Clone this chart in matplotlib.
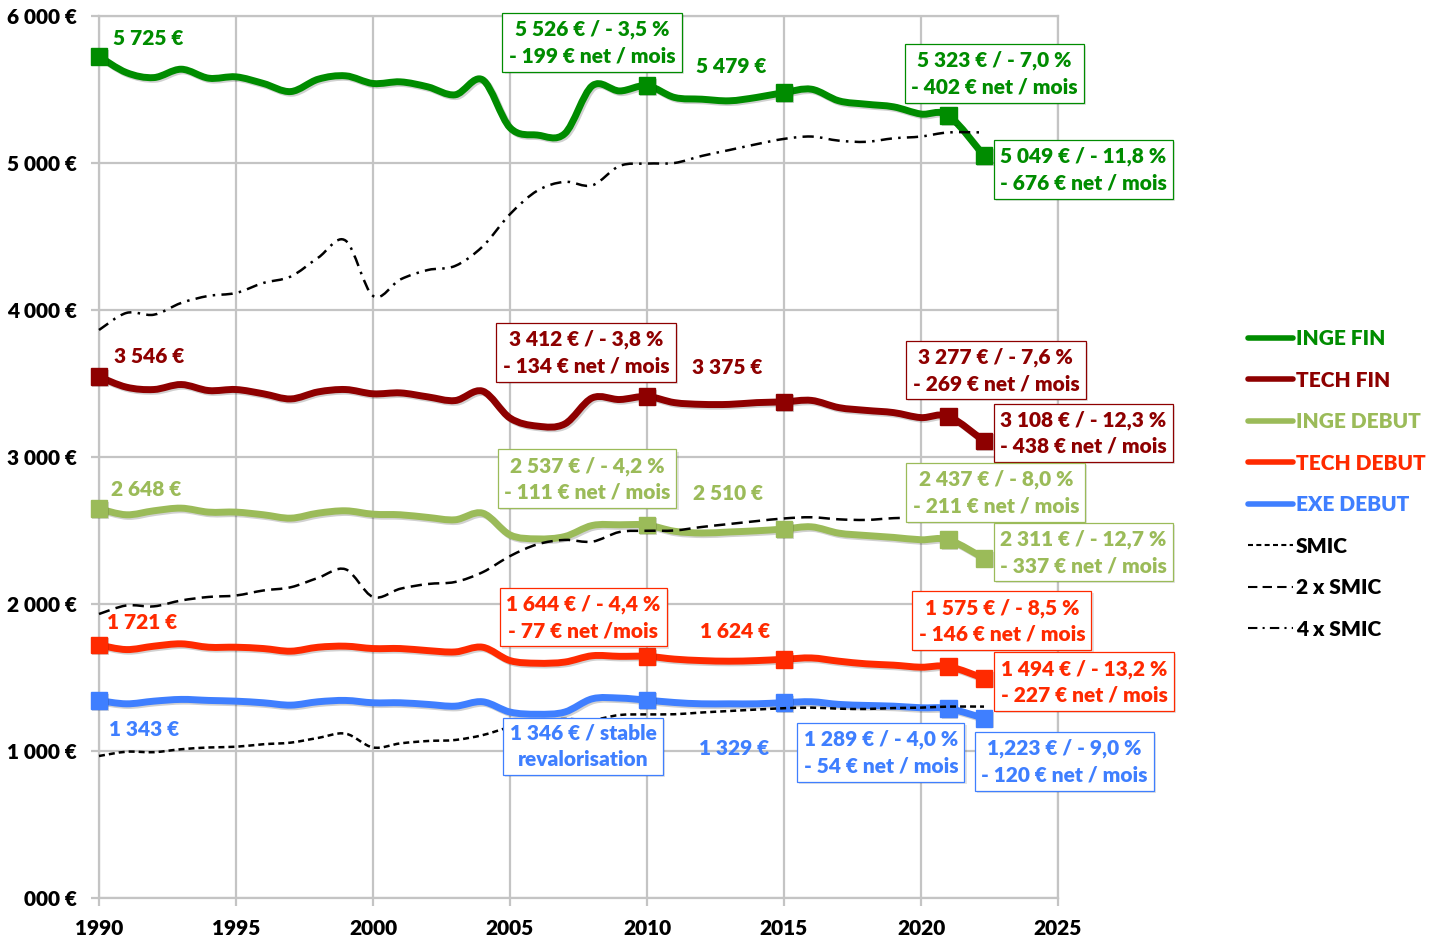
import matplotlib
matplotlib.use('Agg')
import matplotlib.pyplot as plt
import matplotlib.patheffects as pe
from matplotlib.path import Path
from matplotlib.patches import PathPatch
from matplotlib.lines import Line2D

# ---- data ----
years = [1990, 1991, 1992, 1993, 1994, 1995, 1996, 1997, 1998, 1999,
         2000, 2001, 2002, 2003, 2004, 2005, 2006, 2007, 2008, 2009,
         2010, 2011, 2012, 2013, 2014, 2015, 2016, 2017, 2018, 2019,
         2020, 2021, 2022.3]

inge_fin = [5725, 5615, 5581, 5638, 5577, 5586, 5541, 5486, 5570, 5593,
            5541, 5552, 5518, 5464, 5566, 5240, 5190, 5200, 5525, 5490,
            5526, 5446, 5434, 5423, 5446, 5479, 5502, 5423, 5400, 5382,
            5333, 5323, 5049]
tech_fin = [3546, 3475, 3459, 3493, 3452, 3459, 3430, 3395, 3443, 3459,
            3430, 3436, 3409, 3384, 3448, 3265, 3210, 3225, 3402, 3391,
            3412, 3370, 3358, 3358, 3370, 3375, 3385, 3336, 3317, 3302,
            3268, 3277, 3108]
inge_debut = [2648, 2607, 2634, 2652, 2625, 2625, 2607, 2584, 2618, 2634,
              2611, 2607, 2589, 2573, 2618, 2470, 2443, 2459, 2534, 2539,
              2537, 2495, 2483, 2490, 2498, 2510, 2525, 2482, 2466, 2453,
              2437, 2437, 2311]
tech_debut = [1721, 1690, 1713, 1729, 1706, 1706, 1697, 1679, 1706, 1713,
              1697, 1697, 1683, 1674, 1706, 1615, 1597, 1605, 1648, 1644,
              1644, 1625, 1615, 1611, 1615, 1624, 1633, 1611, 1593, 1584,
              1570, 1575, 1494]
exe_debut = [1343, 1321, 1339, 1351, 1344, 1339, 1328, 1312, 1335, 1344,
             1328, 1328, 1317, 1305, 1335, 1265, 1250, 1265, 1355, 1360,
             1346, 1330, 1321, 1321, 1321, 1329, 1335, 1317, 1310, 1305,
             1294, 1289, 1223]
smic = [966, 995, 992, 1012, 1024, 1029, 1046, 1057, 1089, 1118,
        1024, 1052, 1068, 1075, 1108, 1163, 1203, 1218, 1212, 1245,
        1249, 1250, 1262, 1272, 1282, 1291, 1295, 1288, 1286, 1292,
        1295, 1302, 1302]

marker_years = [1990, 2010, 2015, 2021, 2022.3]

series_names = ['INGE FIN', 'TECH FIN', 'INGE DEBUT', 'TECH DEBUT', 'EXE DEBUT']
series_values = [inge_fin, tech_fin, inge_debut, tech_debut, exe_debut]

inge_fin_labels = ['5 725 €', '5 526 € / - 3,5 %\n- 199 € net / mois', '5 479 €',
                   '5 323 € / - 7,0 %\n- 402 € net / mois', '5 049 € / - 11,8 %\n- 676 € net / mois']
tech_fin_labels = ['3 546 €', '3 412 € / - 3,8 %\n- 134 € net / mois', '3 375 €',
                   '3 277 € / - 7,6 %\n- 269 € net / mois', '3 108 € / - 12,3 %\n- 438 € net / mois']
inge_debut_labels = ['2 648 €', '2 537 € / - 4,2 %\n- 111 € net / mois', '2 510 €',
                     '2 437 € / - 8,0 %\n- 211 € net / mois', '2 311 € / - 12,7 %\n- 337 € net / mois']
tech_debut_labels = ['1 721 €', '1 644 € / - 4,4 %\n- 77 € net /mois', '1 624 €',
                     '1 575 € / - 8,5 %\n- 146 € net / mois', '1 494 € / - 13,2 %\n- 227 € net / mois']
exe_debut_labels = ['1 343 €', '1 346 € / stable\nrevalorisation', '1 329 €',
                    '1 289 € / - 4,0 %\n- 54 € net / mois', '1,223 € / - 9,0 %\n- 120 € net / mois']
series_labels = [inge_fin_labels, tech_fin_labels, inge_debut_labels,
                 tech_debut_labels, exe_debut_labels]

xticks = [1990, 1995, 2000, 2005, 2010, 2015, 2020, 2025]
yticks = [0, 1000, 2000, 3000, 4000, 5000, 6000]
ytick_labels = ['000 €', '1 000 €', '2 000 €', '3 000 €', '4 000 €', '5 000 €', '6 000 €']

# ---- styling / layout ----
colors = ['#008c00', '#8e0000', '#9bbb59', '#ff2a00', '#3f7fff']
# label offsets from the marker, in pixels (x right, y down)
offsets = [
    [(49, -18), (-55, -43), (-53, -26), (46, -42), (99.5, 14)],
    [(50.5, -20), (-61, -44), (-56.5, -34), (47.5, -46), (99.5, -8)],
    [(47.5, -19), (-60, -46), (-56, -36), (47.5, -47), (99.5, -6)],
    [(43.5, -23), (-63.5, -39), (-49, -28), (53.5, -45.5), (100, 3.6)],
    [(45.5, 29.4), (-64, 46.4), (-50, 45.4), (-67.5, 44), (80.5, 43.3)],
]
boxed = [False, True, False, True, True]

FONT = ['Lato', 'DejaVu Sans']
WEIGHT = 'heavy'
plt.rcParams['font.family'] = FONT
plt.rcParams['font.weight'] = WEIGHT
FS = 15
GRID = '#c4c4c4'


def smooth_path(x, y):
    # Excel style smoothed line: cubic bezier segments through all points
    pts = list(zip(x, y))
    n = len(pts)
    verts = [pts[0]]
    codes = [Path.MOVETO]
    for i in range(n - 1):
        p0 = pts[max(i - 1, 0)]
        p1 = pts[i]
        p2 = pts[i + 1]
        p3 = pts[min(i + 2, n - 1)]
        c1 = (p1[0] + (p2[0] - p0[0]) / 6, p1[1] + (p2[1] - p0[1]) / 6)
        c2 = (p2[0] - (p3[0] - p1[0]) / 6, p2[1] - (p3[1] - p1[1]) / 6)
        verts += [c1, c2, p2]
        codes += [Path.CURVE4] * 3
    return Path(verts, codes)


fig = plt.figure(figsize=(14.3, 9.39), dpi=100)
ax = fig.add_axes([99 / 1430, 1 - 898 / 939, (1058 - 99) / 1430, (898 - 16) / 939])

ax.set_xlim(1990, 2025)
ax.set_ylim(0, 6000)
ax.set_xticks(xticks)
ax.set_yticks(yticks)
ax.set_yticklabels(ytick_labels)
ax.grid(True, color=GRID, lw=1.6)
ax.set_axisbelow(True)
for s in ax.spines.values():
    s.set_color(GRID)
    s.set_linewidth(1.6)
ax.tick_params(axis='both', length=6, width=1.6, color=GRID, labelsize=FS)
ax.tick_params(axis='y', pad=10)
ax.tick_params(axis='x', pad=9)
for lab in ax.get_xticklabels() + ax.get_yticklabels():
    lab.set_fontweight(WEIGHT)

shadow = [pe.SimpleLineShadow(offset=(1.2, -1.2), shadow_color='k', alpha=0.18), pe.Normal()]

# main series
for vals, c in zip(series_values, colors):
    patch = PathPatch(smooth_path(years, vals), fill=False, edgecolor=c, lw=5,
                      capstyle='round', joinstyle='round', zorder=3, clip_on=False)
    patch.set_path_effects(shadow)
    ax.add_patch(patch)
    mvals = [vals[years.index(y)] for y in marker_years]
    ax.plot(marker_years, mvals, 's', ms=12, color=c, zorder=4, clip_on=False,
            path_effects=[pe.SimplePatchShadow(offset=(1.2, -1.2), alpha=0.2), pe.Normal()])

# SMIC lines
smic_styles = [
    ('SMIC', 1, (2.4, 1.6)),
    ('2 x SMIC', 2, (4.5, 2.5)),
    ('4 x SMIC', 4, (4.5, 2.5, 1, 2.5)),
]
for name, mult, dash in smic_styles:
    patch = PathPatch(smooth_path(years, [mult * v for v in smic]), fill=False,
                      edgecolor='black', lw=1.8, zorder=5, clip_on=False)
    patch.set_linestyle((0, dash))
    ax.add_patch(patch)

# value labels
for vals, labels, offs, c in zip(series_values, series_labels, offsets, colors):
    for y, lab, (dx, dy), b in zip(marker_years, labels, offs, boxed):
        v = vals[years.index(y)]
        t = ax.annotate(lab, (y, v), xytext=(dx * 0.72, -dy * 0.72),
                        textcoords='offset points', ha='center', va='center',
                        color=c, fontsize=FS, fontweight=WEIGHT, linespacing=1.45,
                        zorder=6, annotation_clip=False)
        if b:
            t.set_bbox(dict(boxstyle='square,pad=0.3', fc='white', ec=c, lw=0.9))
            t.get_bbox_patch().set_path_effects(
                [pe.SimplePatchShadow(offset=(1.5, -1.5), alpha=0.15), pe.Normal()])

# legend
handles = []
for name, c in zip(series_names, colors):
    handles.append(Line2D([], [], color=c, lw=4, solid_capstyle='round'))
for name, mult, dash in smic_styles:
    handles.append(Line2D([], [], color='black', lw=1.5, dashes=dash))
labels = series_names + [s[0] for s in smic_styles]
leg = fig.legend(handles, labels, loc='upper left', bbox_to_anchor=(1248 / 1430, 1 - 329 / 939),
                 frameon=False, fontsize=FS, handlelength=2.15, handletextpad=0.15,
                 labelspacing=1.08, borderpad=0, borderaxespad=0)
for txt, c in zip(leg.get_texts(), colors + ['black'] * 3):
    txt.set_color(c)
    txt.set_fontweight(WEIGHT)

fig.savefig('out.png', dpi=100)
